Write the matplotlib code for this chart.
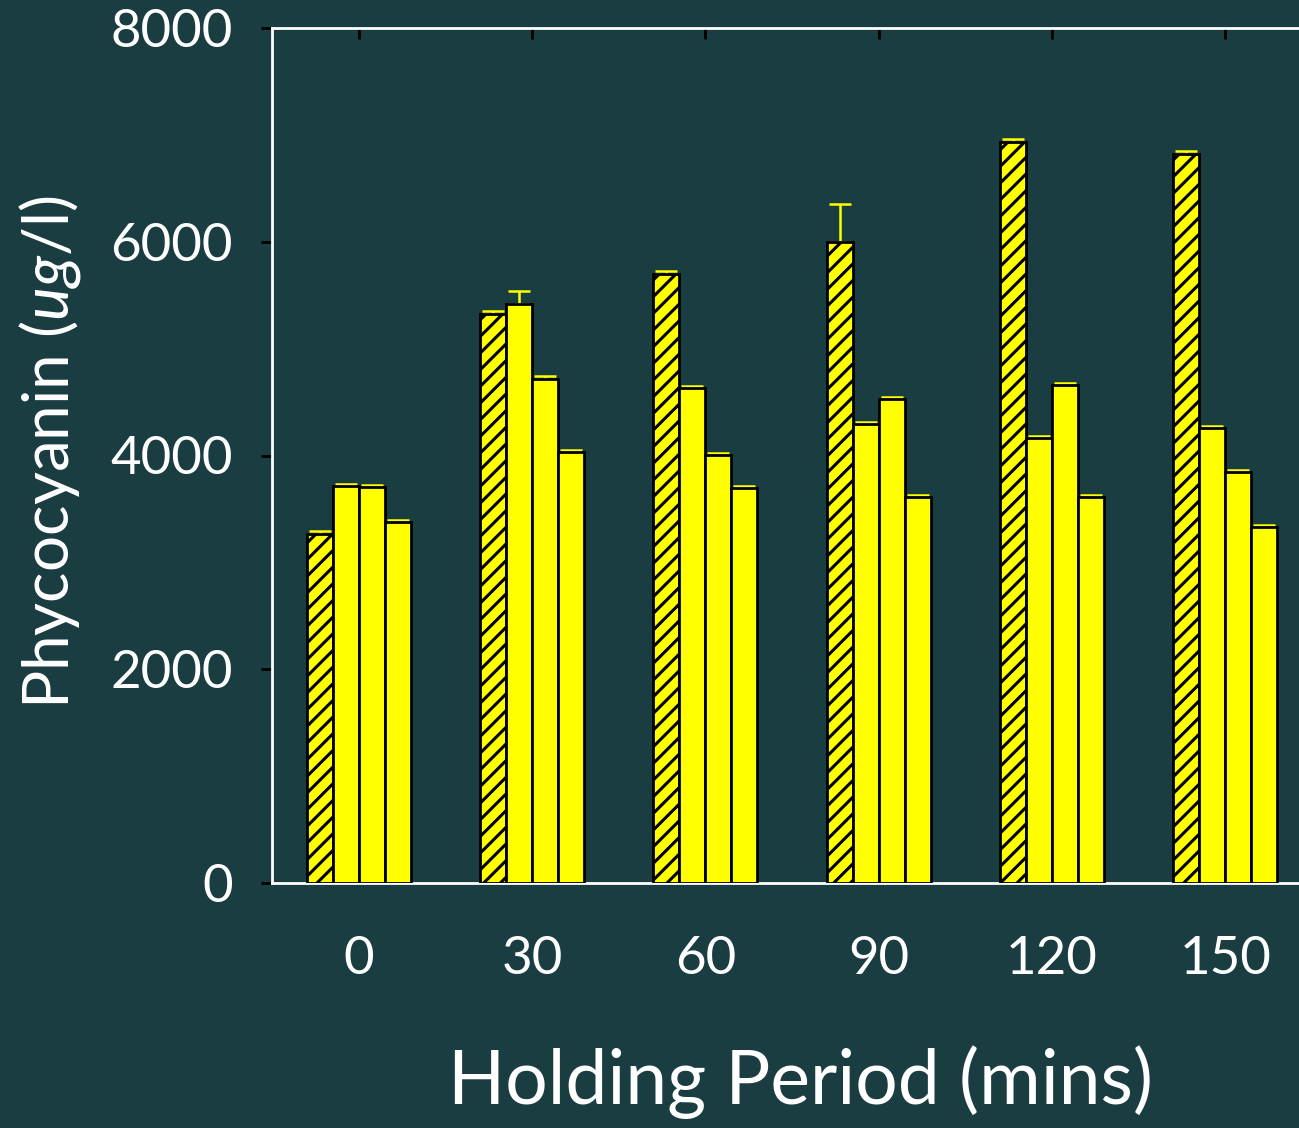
import numpy as np
import matplotlib
matplotlib.use("Agg")
import matplotlib.pyplot as plt

plt.rcParams['font.family'] = ['Lato', 'DejaVu Sans']
plt.rcParams['mathtext.fontset'] = 'custom'
plt.rcParams['mathtext.rm'] = 'Lato'
plt.rcParams['mathtext.it'] = 'Lato:italic'
plt.rcParams['hatch.linewidth'] = 2.2

# Holding period groups (minutes)
periods = [0, 30, 60, 90, 120, 150]

# Phycocyanin concentration (ug/l) for the four treatments
series_a = [3265, 5324, 5698, 6000, 6934, 6821]   # hatched
series_b = [3715, 5418, 4632, 4295, 4164, 4257]
series_c = [3705, 4716, 4005, 4529, 4660, 3846]
series_d = [3378, 4033, 3696, 3612, 3612, 3331]

# Upper error values
err_a = [25, 25, 30, 355, 30, 25]
err_b = [20, 120, 20, 20, 20, 20]
err_c = [20, 25, 20, 20, 20, 20]
err_d = [20, 20, 20, 20, 20, 20]

y_ticks = [0, 2000, 4000, 6000, 8000]

bg = '#1a3d42'
yellow = '#ffff00'

fig = plt.figure(figsize=(12.99, 11.28), dpi=100, facecolor=bg)
ax = fig.add_axes([272 / 1299, 245 / 1128, 1040 / 1299, 855 / 1128])
ax.set_facecolor(bg)

x = np.array(periods, dtype=float)
w = 4.5
series = [series_a, series_b, series_c, series_d]
errs = [err_a, err_b, err_c, err_d]
offsets = [-1.5 * w, -0.5 * w, 0.5 * w, 1.5 * w]

for i, (vals, e, off) in enumerate(zip(series, errs, offsets)):
    ax.bar(x + off, vals, width=w, color=yellow, edgecolor='black',
           linewidth=2.0, hatch='//' if i == 0 else None, zorder=3)
    ax.errorbar(x + off, vals, yerr=[np.zeros(len(e)), e], fmt='none',
                ecolor=yellow, elinewidth=1.8, capsize=8, capthick=1.8,
                zorder=2)

ax.set_xlim(-15, 165)
ax.set_ylim(0, 8000)

ax.set_xticks(periods)
ax.set_xticklabels([str(p) for p in periods])
ax.set_yticks(y_ticks)
ax.set_yticklabels([str(t) for t in y_ticks])

ax.tick_params(axis='x', which='both', direction='in', top=True, bottom=False,
               length=8, width=2, color='black', labelsize=38,
               labelcolor='white', pad=38)
ax.tick_params(axis='y', which='both', direction='out', left=True, right=False,
               length=8, width=2, color='black', labelsize=38,
               labelcolor='white', pad=20)

for side in ['left', 'top', 'bottom']:
    ax.spines[side].set_color('white')
    ax.spines[side].set_linewidth(2)
ax.spines['right'].set_visible(False)

# Axis titles
fig.text(50 / 1299, 1 - 452 / 1128, r'Phycocyanin ($\it{ug}$/l)', fontsize=46,
         color='white', rotation=90, ha='center', va='center')
fig.text(800 / 1299, 1 - 1082 / 1128, 'Holding Period (mins)', fontsize=54,
         color='white', ha='center', va='center')

fig.savefig('out.png', dpi=100, facecolor=bg)
